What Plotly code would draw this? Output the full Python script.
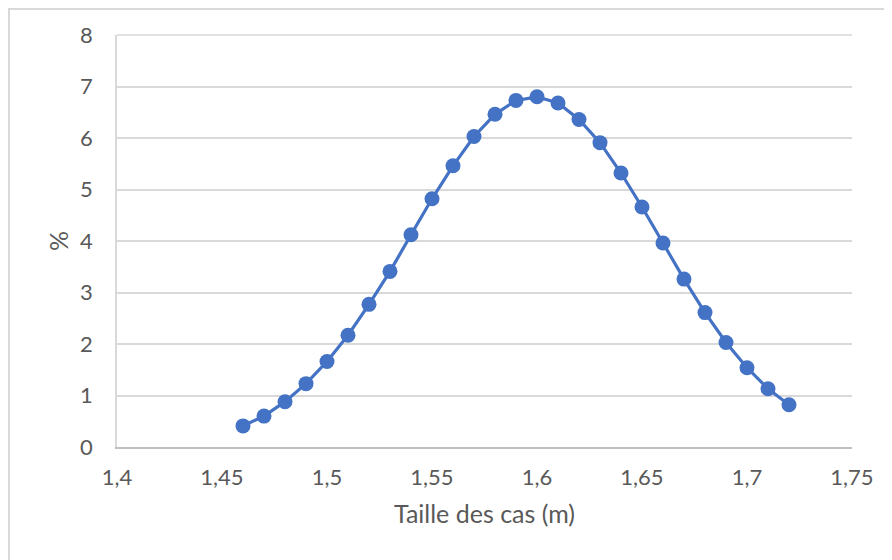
import plotly.graph_objects as go

taille = [1.46, 1.47, 1.48, 1.49, 1.50, 1.51, 1.52, 1.53, 1.54, 1.55, 1.56, 1.57, 1.58, 1.59,
          1.60, 1.61, 1.62, 1.63, 1.64, 1.65, 1.66, 1.67, 1.68, 1.69, 1.70, 1.71, 1.72]
pourcent = [0.41, 0.60, 0.88, 1.23, 1.66, 2.17, 2.77, 3.41, 4.12, 4.82, 5.46, 6.03, 6.46, 6.73,
            6.80, 6.68, 6.36, 5.91, 5.32, 4.66, 3.96, 3.26, 2.61, 2.03, 1.54, 1.13, 0.82]

x_title = "Taille des cas (m)"
y_title = "%"

FONT = "Lato"
GREY = "#595959"
GRID = "#D9D9D9"

W, H = 884, 552
L, R, T, B = 109, 40, 27, 113
PW, PH = W - L - R, H - T - B

fig = go.Figure()
fig.add_trace(go.Scatter(
    x=taille, y=pourcent, mode="lines+markers",
    line=dict(color="#4472C4", width=3.2),
    marker=dict(color="#4472C4", size=15),
    showlegend=False,
))

fig.update_layout(
    width=W, height=H,
    margin=dict(l=L, r=R, t=T, b=B, autoexpand=False),
    paper_bgcolor="white", plot_bgcolor="white",
    separators=", ",
    font=dict(family=FONT, size=22, color=GREY),
    xaxis=dict(
        range=[1.4, 1.75], tick0=1.4, dtick=0.05,
        showgrid=False, zeroline=False,
        showline=True, linecolor="#BFBFBF", linewidth=1.5,
        ticks="", ticklabelstandoff=10,
        tickfont=dict(family=FONT, size=22, color=GREY),
        title=dict(text=x_title, font=dict(family=FONT, size=25, color=GREY), standoff=16),
    ),
    yaxis=dict(
        range=[0, 8], tick0=0, dtick=1,
        showgrid=True, gridcolor=GRID, gridwidth=1.5,
        zeroline=False,
        showline=True, linecolor=GRID, linewidth=1.5,
        ticks="", ticklabelstandoff=18,
        tickfont=dict(family=FONT, size=22, color=GREY),
        title=dict(text=y_title, font=dict(family=FONT, size=25, color=GREY), standoff=4),
    ),
    shapes=[
        dict(type="rect", xref="paper", yref="paper",
             x0=-(L - 1) / PW, x1=1.2, y0=-0.5, y1=1 + (T - 1) / PH,
             line=dict(color=GRID, width=2), layer="below"),
        dict(type="line", xref="paper", yref="paper",
             x0=0, x1=1, y0=1, y1=1,
             line=dict(color=GRID, width=1.5), layer="below"),
    ],
)

fig.write_html("out.html")
